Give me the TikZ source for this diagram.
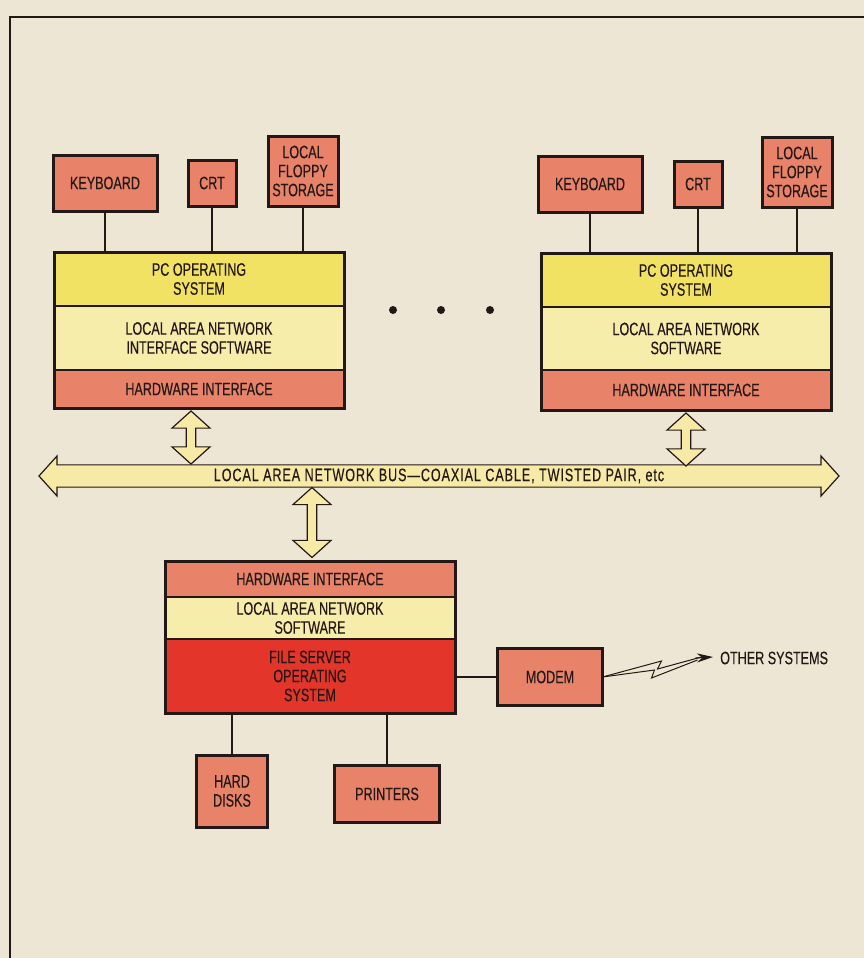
\documentclass[tikz,border=0pt]{standalone}
\usepackage{fontspec}
\setmainfont{Liberation Sans}[FakeStretch=0.7, FakeBold=0.3]
\usepackage{tikz}
\usetikzlibrary{arrows.meta,positioning,shapes.arrows,fit,calc}
\definecolor{paper}{HTML}{EDE6D5}
\definecolor{salmon}{HTML}{E8836A}
\definecolor{osyellow}{HTML}{F1E264}
\definecolor{lanyellow}{HTML}{F6EDAA}
\definecolor{fsred}{HTML}{E4352B}
\definecolor{busfill}{HTML}{F6EAA6}
\definecolor{ink}{HTML}{231815}
\newcommand\diagfont{\fontsize{18}{19}\selectfont}
\tikzset{
  devbox/.style={
    rectangle, draw=ink, fill=salmon, line width=3pt,
    font=\diagfont, text=ink, align=center,
    inner sep=2pt, outer sep=0pt
  },
  layerbox/.style={
    rectangle, draw=ink, fill=#1, line width=1.2pt,
    minimum width=290pt, font=\diagfont, text=ink, align=center,
    inner sep=2pt, outer sep=0pt
  },
  layerbox/.default=lanyellow,
  stackframe/.style={
    rectangle, draw=ink, line width=3pt, inner sep=0pt
  },
  fatlink/.style={
    double arrow, draw=ink, fill=busfill, line width=1.2pt,
    double arrow head extend=8pt, double arrow tip angle=96,
    minimum width=38pt, inner sep=2pt, font=\diagfont, text=ink
  },
  wire/.style={draw=ink, line width=1.2pt},
  bolt/.style={draw=ink, line width=1pt, line join=miter},
}

\begin{document}
\begin{tikzpicture}[x=1pt, y=-1pt]
  \fill[paper] (0,0) rectangle (864,958);
  \useasboundingbox (0,0) rectangle (864,958);
  \draw[ink, line width=2pt] (10,958) -- (10,17) -- (864,17);

  % left workstation
  \node[layerbox=osyellow, minimum height=54pt] (lpcos) at (199,279) {PC OPERATING\\SYSTEM};
  \node[layerbox, minimum height=64pt, below=0pt of lpcos] (llan) {LOCAL AREA NETWORK\\INTERFACE SOFTWARE};
  \node[layerbox=salmon, minimum height=38pt, below=0pt of llan] (lhw) {HARDWARE INTERFACE};
  \node[stackframe, fit=(lpcos)(lhw)] (lstack) {};
  \node[devbox, minimum width=104pt, minimum height=56pt] (lkbd) at (105,183) {KEYBOARD};
  \node[devbox, minimum width=48pt, minimum height=46pt] (lcrt) at (212,183) {CRT};
  \node[devbox, minimum width=70pt, minimum height=70pt] (lflp) at (303,171) {LOCAL\\FLOPPY\\STORAGE};
  \foreach \dev in {lkbd,lcrt,lflp}
    \draw[wire] (\dev) -- (\dev |- lstack.north);

  % right workstation
  \node[layerbox=osyellow, minimum height=54pt] (rpcos) at (686,280) {PC OPERATING\\SYSTEM};
  \node[layerbox, minimum height=63pt, below=0pt of rpcos] (rlan) {LOCAL AREA NETWORK\\SOFTWARE};
  \node[layerbox=salmon, minimum height=40pt, below=0pt of rlan] (rhw) {HARDWARE INTERFACE};
  \node[stackframe, fit=(rpcos)(rhw)] (rstack) {};
  \node[devbox, minimum width=104pt, minimum height=56pt] (rkbd) at (590,184) {KEYBOARD};
  \node[devbox, minimum width=48pt, minimum height=46pt] (rcrt) at (698,184) {CRT};
  \node[devbox, minimum width=70pt, minimum height=70pt] (rflp) at (797,172) {LOCAL\\FLOPPY\\STORAGE};
  \foreach \dev in {rkbd,rcrt,rflp}
    \draw[wire] (\dev) -- (\dev |- rstack.north);

  \foreach \dx in {393,441,490}
    \fill[ink] (\dx,310) circle (4pt);

  % network bus and links
  \node[fatlink, minimum height=800pt, minimum width=40pt,
        font=\diagfont\addfontfeature{LetterSpace=5}] (bus) at (439,476)
        {LOCAL AREA NETWORK BUS---COAXIAL CABLE, TWISTED PAIR, etc};
  \node[fatlink, rotate=90, minimum height=53pt] (llink) at ($(lstack.south)+(-8,28)$) {};
  \node[fatlink, rotate=90, minimum height=53pt] (rlink) at ($(rstack.south)+(0,28)$) {};

  % file server
  \node[layerbox=salmon, minimum height=36pt] (shw) at (310,579) {HARDWARE INTERFACE};
  \node[layerbox, minimum height=42pt, below=0pt of shw] (slan) {LOCAL AREA NETWORK\\SOFTWARE};
  \node[layerbox=fsred, minimum height=74pt, below=0pt of slan] (sfsos) {FILE SERVER\\OPERATING\\SYSTEM};
  \node[stackframe, fit=(shw)(sfsos)] (sstack) {};
  \node[fatlink, rotate=90, minimum height=70pt] (slink) at ($(sstack.north)+(2,-37)$) {};

  \node[devbox, minimum width=105pt, minimum height=57pt] (modem) at (550,677) {MODEM};
  \draw[wire] (modem.west -| sstack.east) -- (modem.west);
  \node[devbox, minimum width=71pt, minimum height=72pt] (disks) at (232,791) {HARD\\DISKS};
  \node[devbox, minimum width=105pt, minimum height=57pt] (printers) at (387,794) {PRINTERS};
  \draw[wire] (disks) -- (disks |- sstack.south);
  \draw[wire] (printers) -- (printers |- sstack.south);

  % modem line out
  \node[font=\diagfont, text=ink, anchor=west, inner sep=0pt] (osys) at (720,658) {OTHER SYSTEMS};
  \coordinate (bstart) at (modem.east);
  \draw[bolt] (bstart) -- ++(59,-16) -- ++(-4,8) -- ++(44,-12);
  \draw[bolt] (bstart) -- ++(52,-7) -- ++(-3,8) -- ++(46,-18);
  \draw[bolt, -{Stealth[length=16pt,width=9pt]}] ($(bstart)+(93,-19)$) -- ($(osys.west)+(-7,-1)$);
\end{tikzpicture}
\end{document}
